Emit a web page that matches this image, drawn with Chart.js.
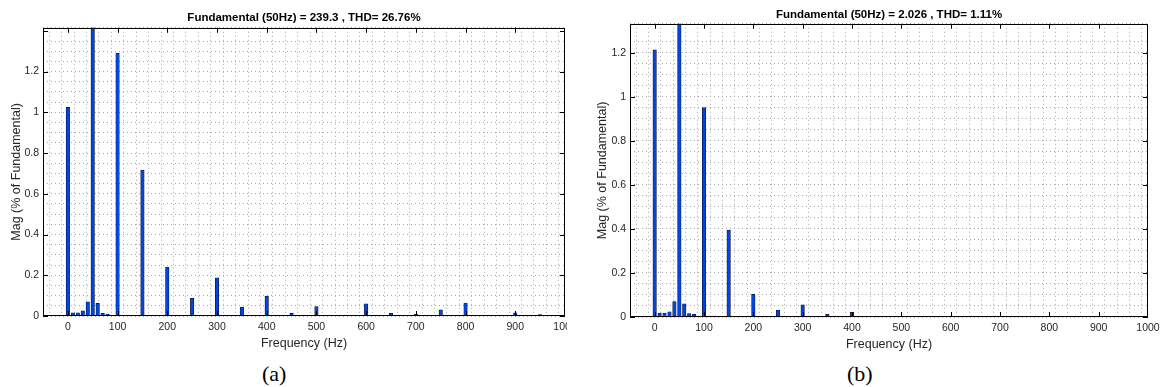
<!DOCTYPE html>
<html>
<head>
<meta charset="utf-8">
<script src="https://cdn.jsdelivr.net/npm/chart.js@4.4.1/dist/chart.umd.min.js"></script>
<style>
    body { margin: 0; background: #fff; width: 1160px; height: 387px; position: relative; overflow: hidden; }
    canvas { position: absolute; top: 0; }
    #chartA { left: 0; }
    #chartB { left: 580px; }
    .cap { position: absolute; top: 361px; font-family: "Liberation Serif", "Times New Roman", serif; font-size: 22px; color: #000; }
</style>
</head>
<body>
<canvas id="chartA" width="567" height="352"></canvas>
<canvas id="chartB" width="580" height="352"></canvas>
<div class="cap" style="left:262px;">(a)</div>
<div class="cap" style="left:847px;">(b)</div>

<script>
// --- Data (harmonic spectrum, % of fundamental) ---
const freqs = [0, 10, 20, 30, 40, 50, 60, 70, 80, 90, 100, 110, 120, 150, 200, 250, 300, 350, 400, 450, 500, 550, 600, 650, 700, 750, 800, 850, 900, 950];

// (a) fundamental 239.3, THD 26.76%
const magA = [1.024, 0.016, 0.016, 0.025, 0.069, 100, 0.062, 0.013, 0.01, 0.003, 1.29, 0.003, 0.003, 0.716, 0.24, 0.087, 0.188, 0.044, 0.098, 0.013, 0.046, 0.003, 0.06, 0.013, 0.008, 0.03, 0.064, 0.003, 0.016, 0.007];

// (b) fundamental 2.026, THD 1.11%
const magB = [1.214, 0.018, 0.018, 0.024, 0.07, 100, 0.06, 0.015, 0.012, 0.004, 0.951, 0.004, 0.004, 0.395, 0.103, 0.032, 0.055, 0.012, 0.021, 0.004, 0.003, 0.001, 0.004, 0.001, 0.001, 0.002, 0.004, 0.001, 0.001, 0.001];

const xTickLabels = [0, 100, 200, 300, 400, 500, 600, 700, 800, 900, 1000];
const yTickLabelsA = [0, 0.2, 0.4, 0.6, 0.8, 1, 1.2, 1.4];
const yTickLabelsB = [0, 0.2, 0.4, 0.6, 0.8, 1, 1.2];

const FONT = '"Liberation Sans", Arial, sans-serif';

function isLabel(list, v) {
    return list.some(t => Math.abs(t - v) < 1e-6);
}

// MATLAB style box with inward tick marks
const boxPlugin = {
    id: 'matlabBox',
    afterDatasetsDraw(chart, args, opts) {
        const { ctx, chartArea: a, scales: { x, y } } = chart;
        ctx.save();
        ctx.strokeStyle = '#000';
        ctx.lineWidth = 1;
        ctx.strokeRect(Math.round(a.left) + 0.5, Math.round(a.top) + 0.5, Math.round(a.width) - 1, Math.round(a.height) - 1);
        ctx.beginPath();
        opts.xTicks.forEach(v => {
            const px = Math.round(x.getPixelForValue(v)) + 0.5;
            if (px > a.right) return;
            ctx.moveTo(px, a.bottom); ctx.lineTo(px, a.bottom - 5);
            ctx.moveTo(px, a.top); ctx.lineTo(px, a.top + 5);
        });
        opts.yTicks.forEach(v => {
            const py = Math.round(y.getPixelForValue(v)) + 0.5;
            ctx.moveTo(a.left, py); ctx.lineTo(a.left + 5, py);
            ctx.moveTo(a.right, py); ctx.lineTo(a.right - 5, py);
        });
        ctx.stroke();
        ctx.restore();
    }
};

function renderSpectrum(id, mags, cfg) {
    const ctx = document.getElementById(id).getContext('2d');
    const points = freqs.map((f, i) => ({ x: f, y: mags[i] }));

    // dotted grid (v4 reads grid dash from border.dash)
    const gridOpts = { color: '#a8a8a8', drawTicks: false, lineWidth: 1 };
    const borderOpts = { display: false, dash: [1, 3] };

    new Chart(ctx, {
        type: 'bar',
        data: {
            datasets: [{
                data: points,
                backgroundColor: '#0046e6',
                borderColor: '#0a1230',
                borderWidth: 0.7,
                barThickness: 3.5
            }]
        },
        plugins: [boxPlugin],
        options: {
            responsive: false,
            animation: false,
            layout: { padding: { left: 0, right: cfg.padRight, top: 0, bottom: 0 } },
            plugins: {
                legend: { display: false },
                tooltip: { enabled: false },
                title: {
                    display: true,
                    text: cfg.title,
                    fullSize: false,
                    color: '#000',
                    font: { family: FONT, size: 11.5, weight: 'bold' },
                    padding: { top: cfg.titleTop, bottom: cfg.titleBottom }
                },
                matlabBox: { xTicks: xTickLabels, yTicks: cfg.yLabels }
            },
            scales: {
                x: {
                    type: 'linear',
                    min: -50,
                    max: 1000,
                    offset: false,
                    border: borderOpts,
                    grid: gridOpts,
                    ticks: {
                        stepSize: 25,
                        autoSkip: false,
                        maxRotation: 0,
                        padding: 5,
                        color: '#262626',
                        font: { family: FONT, size: 10.5 },
                        callback: v => isLabel(xTickLabels, v) ? String(v) : ''
                    },
                    title: {
                        display: true,
                        text: 'Frequency (Hz)',
                        color: '#262626',
                        font: { family: FONT, size: 12.5 },
                        padding: { top: 0, bottom: cfg.xTitlePad }
                    },
                    afterFit(scale) {
                        scale.paddingLeft = 0;
                        scale.paddingRight = 0;
                        scale.height = cfg.xHeight;
                    }
                },
                y: {
                    min: 0,
                    max: cfg.yMax,
                    border: borderOpts,
                    grid: gridOpts,
                    ticks: {
                        stepSize: 0.05,
                        autoSkip: false,
                        padding: 4,
                        color: '#262626',
                        font: { family: FONT, size: 10.5 },
                        callback: v => isLabel(cfg.yLabels, v) ? String(+v.toFixed(1)) : ''
                    },
                    title: {
                        display: true,
                        text: 'Mag (% of Fundamental)',
                        color: '#262626',
                        font: { family: FONT, size: 12.5 },
                        padding: { top: cfg.yTitlePad, bottom: 0 }
                    },
                    afterFit(scale) {
                        scale.width = cfg.yWidth;
                        scale.paddingTop = 0;
                        scale.paddingBottom = 0;
                    }
                }
            }
        }
    });
}

renderSpectrum('chartA', magA, {
    title: 'Fundamental (50Hz) = 239.3 , THD= 26.76%',
    yMax: 1.415,
    yLabels: yTickLabelsA,
    yWidth: 43,
    yTitlePad: 9,
    xHeight: 36,
    xTitlePad: 1,
    padRight: 2,
    titleTop: 11,
    titleBottom: 3
});

renderSpectrum('chartB', magB, {
    title: 'Fundamental (50Hz) = 2.026 , THD= 1.11%',
    yMax: 1.332,
    yLabels: yTickLabelsB,
    yWidth: 50,
    yTitlePad: 15,
    xHeight: 35,
    xTitlePad: 0,
    padRight: 12,
    titleTop: 8,
    titleBottom: 2
});
</script>
</body>
</html>
